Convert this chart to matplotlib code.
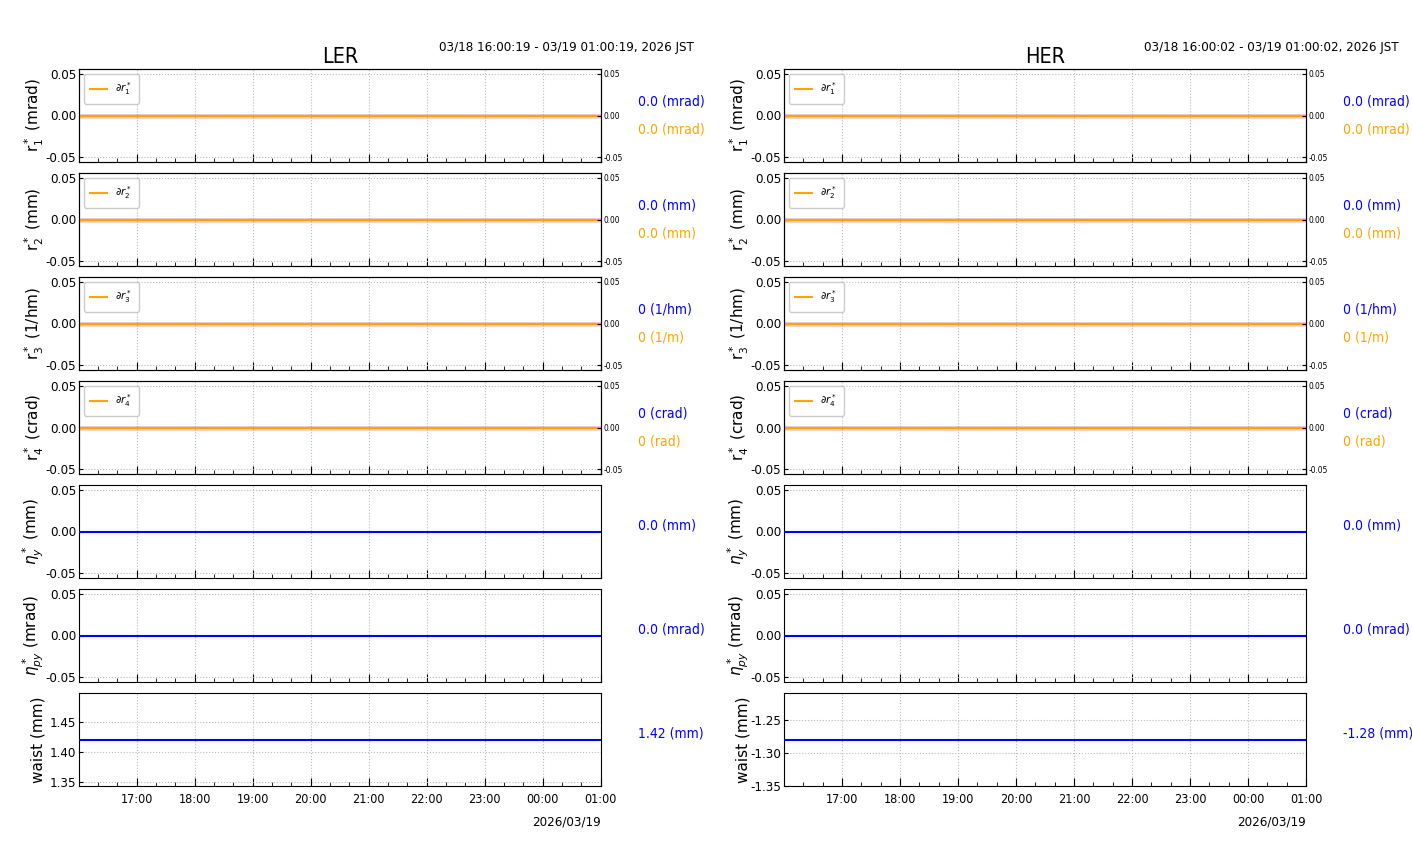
import datetime as dt
import matplotlib
matplotlib.use("Agg")
import matplotlib.pyplot as plt
import matplotlib.dates as mdates

rings = ["LER", "HER"]
starts = [dt.datetime(2026, 3, 18, 16, 0, 19), dt.datetime(2026, 3, 18, 16, 0, 2)]
ranges = ["03/18 16:00:19 - 03/19 01:00:19, 2026 JST",
          "03/18 16:00:02 - 03/19 01:00:02, 2026 JST"]

ylabels = [r"r$_1^*$ (mrad)", r"r$_2^*$ (mm)", r"r$_3^*$ (1/hm)", r"r$_4^*$ (crad)",
           r"$\eta_y^*$ (mm)", r"$\eta_{py}^*$ (mrad)", "waist (mm)"]
legend_labels = [r"$\partial r_1^*$", r"$\partial r_2^*$", r"$\partial r_3^*$", r"$\partial r_4^*$"]
blue_units = ["(mrad)", "(mm)", "(1/hm)", "(crad)", "(mm)", "(mrad)", "(mm)"]
orange_units = ["(mrad)", "(mm)", "(1/m)", "(rad)"]

# values (constant over the whole window)
ler_vals = [0.0, 0.0, 0.0, 0.0, 0.0, 0.0, 1.42]
her_vals = [0.0, 0.0, 0.0, 0.0, 0.0, 0.0, -1.28]
ler_dvals = [0.0, 0.0, 0.0, 0.0]
her_dvals = [0.0, 0.0, 0.0, 0.0]
blue_text = {"LER": ["0.0", "0.0", "0", "0", "0.0", "0.0", "1.42"],
             "HER": ["0.0", "0.0", "0", "0", "0.0", "0.0", "-1.28"]}
orange_text = ["0.0", "0.0", "0", "0"]

waist_lim = {"LER": (1.343, 1.498), "HER": (-1.35, -1.209)}
waist_ticks = {"LER": [1.35, 1.40, 1.45], "HER": [-1.35, -1.30, -1.25]}

W, H = 1412, 864
fig = plt.figure(figsize=(W / 100, H / 100), dpi=100)

lefts = [79, 784]
tops = [69, 173, 277, 381, 485, 589, 693]
ax_w, ax_h = 522, 93


def narrow(t, size=None):
    # DejaVu Sans Condensed
    t.set_family("DejaVu Sans")
    t.set_stretch("condensed")
    if size:
        t.set_size(size)


for k, ring in enumerate(rings):
    t0 = starts[k]
    t1 = t0 + dt.timedelta(hours=9)
    times = [t0, t1]
    vals = ler_vals if ring == "LER" else her_vals
    dvals = ler_dvals if ring == "LER" else her_dvals
    for i, top in enumerate(tops):
        ax = fig.add_axes([lefts[k] / W, 1 - (top + ax_h) / H, ax_w / W, ax_h / H])
        ax.plot(times, [vals[i]] * 2, color="blue", lw=1.5, zorder=3)
        if i < 4:
            ax.plot(times, [vals[i]] * 2, color="tab:red", alpha=0.2, lw=3.5, zorder=3)
            ax.plot(times, [dvals[i]] * 2, color="orange", lw=1.5, zorder=4,
                    label=legend_labels[i])
            ax.legend(loc="upper left", handlelength=1.6, framealpha=1, borderpad=0.6,
                      prop={"family": "DejaVu Sans", "stretch": "condensed", "size": 7.5})
        ax.set_xlim(t0, t1)
        if i < 6:
            ax.set_ylim(-0.056, 0.056)
            ax.set_yticks([-0.05, 0.0, 0.05])
        else:
            ax.set_ylim(*waist_lim[ring])
            ax.set_yticks(waist_ticks[ring])
        ax.yaxis.set_major_formatter(matplotlib.ticker.FormatStrFormatter("%.2f"))
        ax.xaxis.set_major_locator(mdates.HourLocator())
        ax.xaxis.set_minor_locator(mdates.MinuteLocator(byminute=[20, 40]))
        ax.xaxis.set_major_formatter(mdates.DateFormatter("%H:%M"))
        ax.grid(True, which="major", ls=":", color="#bbbbbb", lw=0.8)
        ax.tick_params(direction="in", which="major", length=6, pad=5)
        ax.tick_params(direction="in", which="minor", length=3)
        ax.tick_params(axis="y", length=3, pad=2)
        for lab in ax.get_xticklabels():
            narrow(lab, 9)
        for lab in ax.get_yticklabels():
            narrow(lab, 9.5)
        if i < 6:
            ax.tick_params(axis="x", labelbottom=False)
        ax.set_ylabel(ylabels[i], fontsize=11)
        ax.yaxis.set_label_coords(-0.064, 0.5)

        x_txt = 1 + 37 / ax_w
        if i < 4:
            t = ax.text(x_txt, 0.65, blue_text[ring][i] + " " + blue_units[i], color="blue",
                        transform=ax.transAxes, va="center", ha="left")
            narrow(t, 10)
            t = ax.text(x_txt, 0.35, orange_text[i] + " " + orange_units[i], color="orange",
                        transform=ax.transAxes, va="center", ha="left")
            narrow(t, 10)
            tw = ax.twinx()
            tw.set_ylim(-0.056, 0.056)
            tw.set_yticks([-0.05, 0.0, 0.05])
            tw.yaxis.set_major_formatter(matplotlib.ticker.FormatStrFormatter("%.2f"))
            tw.tick_params(direction="in", length=3, labelsize=6, pad=2)
            for lab in tw.get_yticklabels():
                narrow(lab)
        else:
            t = ax.text(x_txt, 0.56, blue_text[ring][i] + " " + blue_units[i], color="blue",
                        transform=ax.transAxes, va="center", ha="left")
            narrow(t, 10)

        if i == 0:
            t = ax.set_title(ring, pad=4)
            narrow(t, 15.5)
            t = ax.text(1 + 93 / ax_w, 1 + 22 / ax_h, ranges[k], transform=ax.transAxes,
                        ha="right", va="center")
            narrow(t, 9.5)
        if i == 6:
            t = ax.text(1.0, -36 / ax_h, "2026/03/19", transform=ax.transAxes,
                        ha="right", va="center")
            narrow(t, 9.5)

fig.savefig("out.png", dpi=100)
